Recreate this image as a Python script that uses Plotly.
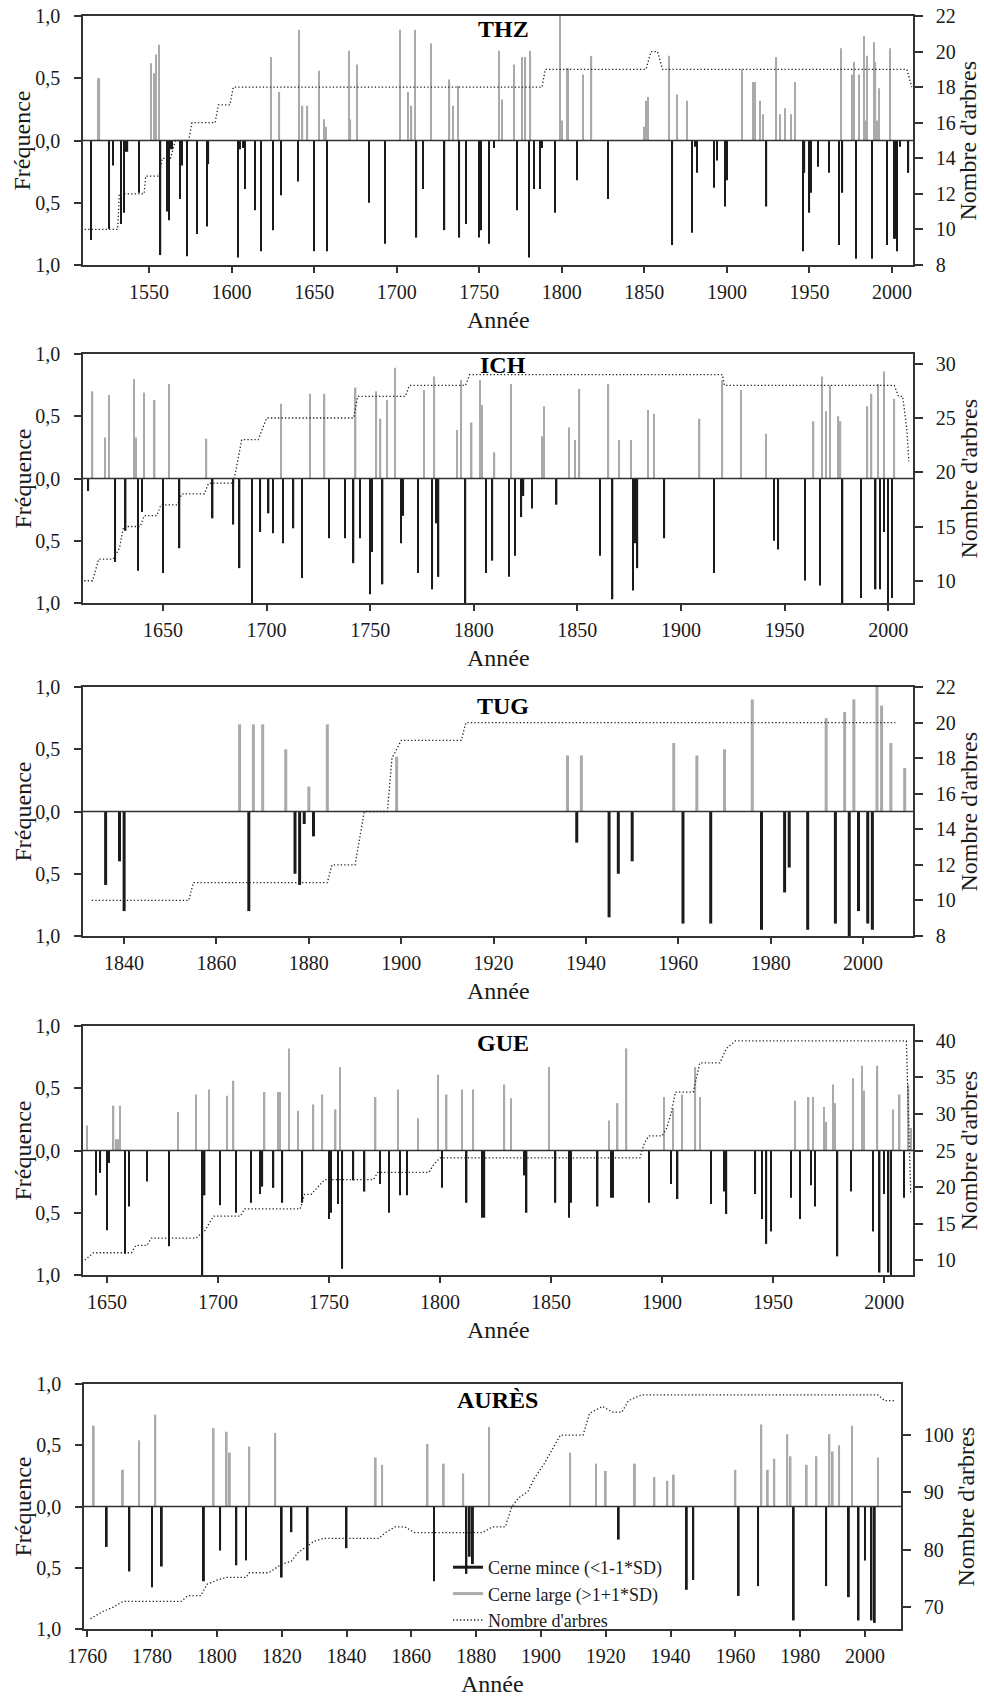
import plotly.graph_objects as go

W, H = 984, 1697

# ---------------- THZ ----------------
THZ_LARGE_YEARS = [1519, 1520, 1551, 1553, 1554, 1556, 1624, 1629, 1641, 1643, 1646, 1653, 1656, 1657,
                   1671, 1672, 1676, 1702, 1707, 1709, 1711, 1721, 1732, 1734, 1737, 1762, 1764, 1771,
                   1776, 1778, 1781, 1799, 1800, 1803, 1804, 1813, 1818, 1850, 1851, 1852, 1865, 1870,
                   1876, 1909, 1916, 1917, 1920, 1922, 1930, 1932, 1935, 1939, 1941, 1969, 1976, 1977,
                   1980, 1983, 1984, 1985, 1989, 1990, 1991, 1992, 1999]
THZ_LARGE_FREQ = [0.50, 0.50, 0.62, 0.54, 0.69, 0.77, 0.67, 0.39, 0.89, 0.28, 0.28, 0.56, 0.17, 0.11,
                  0.72, 0.17, 0.61, 0.89, 0.39, 0.28, 0.89, 0.78, 0.49, 0.28, 0.44, 0.72, 0.33, 0.61,
                  0.67, 0.67, 0.72, 1.00, 0.16, 0.58, 0.58, 0.53, 0.68, 0.11, 0.32, 0.35, 0.68, 0.37,
                  0.32, 0.57, 0.47, 0.47, 0.32, 0.21, 0.67, 0.21, 0.26, 0.21, 0.47, 0.74, 0.53, 0.63,
                  0.53, 0.84, 0.16, 0.68, 0.79, 0.63, 0.16, 0.42, 0.74]
THZ_THIN_YEARS = [1515, 1526, 1528, 1533, 1535, 1536, 1537, 1544, 1557, 1561, 1562, 1563, 1564, 1569,
                  1570, 1573, 1579, 1585, 1586, 1604, 1605, 1607, 1608, 1614, 1618, 1625, 1630, 1640,
                  1650, 1658, 1683, 1693, 1712, 1716, 1729, 1738, 1742, 1750, 1751, 1756, 1759, 1773,
                  1780, 1783, 1787, 1788, 1796, 1809, 1828, 1867, 1879, 1881, 1882, 1892, 1894, 1899,
                  1900, 1924, 1946, 1947, 1950, 1951, 1955, 1962, 1968, 1970, 1978, 1988, 1997, 2001,
                  2002, 2003, 2005, 2010]
THZ_THIN_FREQ = [0.80, 0.71, 0.20, 0.67, 0.58, 0.09, 0.09, 0.42, 0.92, 0.57, 0.64, 0.07, 0.07, 0.47,
                 0.20, 0.93, 0.75, 0.69, 0.19, 0.94, 0.07, 0.06, 0.39, 0.56, 0.89, 0.72, 0.44, 0.33,
                 0.89, 0.89, 0.50, 0.83, 0.78, 0.39, 0.72, 0.78, 0.67, 0.78, 0.72, 0.83, 0.06, 0.56,
                 0.94, 0.39, 0.39, 0.06, 0.58, 0.32, 0.47, 0.84, 0.74, 0.05, 0.26, 0.38, 0.16, 0.53,
                 0.32, 0.53, 0.89, 0.26, 0.58, 0.42, 0.21, 0.26, 0.84, 0.42, 0.95, 0.95, 0.84, 0.79,
                 0.79, 0.89, 0.05, 0.26]
THZ_COUNT_YEARS = [1511, 1531, 1532, 1547, 1548, 1556, 1558, 1563, 1566, 1574, 1576, 1590, 1592, 1599,
                   1601, 1788, 1790, 1851, 1854, 1858, 1861, 2009, 2012]
THZ_COUNT_N = [10, 10, 12, 12, 13, 13, 14, 14, 15, 15, 16, 16, 17, 17,
               18, 18, 19, 19, 20, 20, 19, 19, 18]

# ---------------- ICH ----------------
ICH_LARGE_YEARS = [1616, 1622, 1624, 1636, 1637, 1641, 1646, 1653, 1671, 1707, 1721, 1728, 1743, 1753,
                   1755, 1758, 1762, 1776, 1781, 1792, 1794, 1799, 1803, 1804, 1810, 1818, 1833, 1834,
                   1846, 1849, 1851, 1865, 1870, 1876, 1884, 1887, 1909, 1920, 1929, 1941, 1964, 1968,
                   1970, 1972, 1976, 1977, 1990, 1992, 1995, 1998, 2003]
ICH_LARGE_FREQ = [0.70, 0.33, 0.67, 0.80, 0.33, 0.69, 0.63, 0.76, 0.32, 0.60, 0.68, 0.68, 0.73, 0.70,
                  0.48, 0.63, 0.89, 0.71, 0.82, 0.39, 0.79, 0.45, 0.79, 0.59, 0.21, 0.76, 0.34, 0.58,
                  0.41, 0.31, 0.72, 0.76, 0.31, 0.31, 0.55, 0.52, 0.48, 0.79, 0.71, 0.36, 0.46, 0.82,
                  0.54, 0.75, 0.50, 0.46, 0.58, 0.68, 0.76, 0.86, 0.64]
ICH_THIN_YEARS = [1614, 1627, 1632, 1638, 1640, 1650, 1658, 1674, 1684, 1687, 1693, 1697, 1701, 1703,
                  1708, 1713, 1717, 1730, 1738, 1742, 1745, 1750, 1751, 1756, 1765, 1766, 1773, 1780,
                  1782, 1783, 1796, 1806, 1809, 1817, 1820, 1823, 1824, 1828, 1840, 1861, 1867, 1877,
                  1878, 1879, 1892, 1916, 1945, 1947, 1960, 1967, 1978, 1987, 1994, 1996, 1998, 2000,
                  2002]
ICH_THIN_FREQ = [0.10, 0.67, 0.42, 0.74, 0.27, 0.76, 0.56, 0.32, 0.37, 0.72, 1.00, 0.43, 0.28, 0.44,
                 0.52, 0.40, 0.80, 0.48, 0.48, 0.68, 0.48, 0.93, 0.59, 0.85, 0.52, 0.30, 0.76, 0.89,
                 0.36, 0.79, 1.00, 0.76, 0.66, 0.79, 0.62, 0.31, 0.14, 0.24, 0.21, 0.62, 0.97, 0.90,
                 0.52, 0.72, 0.48, 0.76, 0.50, 0.57, 0.82, 0.86, 1.00, 0.96, 0.89, 0.89, 0.43, 1.00,
                 0.96]
ICH_COUNT_YEARS = [1612, 1616, 1619, 1626, 1629, 1631, 1639, 1641, 1647, 1649, 1657, 1659, 1670, 1672,
                   1684, 1686, 1688, 1696, 1698, 1700, 1742, 1744, 1767, 1769, 1796, 1798, 1920, 1921,
                   2003, 2005, 2007, 2009, 2010]
ICH_COUNT_N = [10, 10, 12, 12, 13, 15, 15, 16, 16, 17, 17, 18, 18, 19,
               19, 21, 23, 23, 24, 25, 25, 27, 27, 28, 28, 29, 29, 28,
               28, 27, 27, 24, 21]

# ---------------- TUG ----------------
TUG_LARGE_YEARS = [1865, 1868, 1870, 1875, 1880, 1884, 1899, 1936, 1939, 1959, 1964, 1970, 1976, 1992,
                   1996, 1998, 2003, 2004, 2006, 2009]
TUG_LARGE_FREQ = [0.70, 0.70, 0.70, 0.50, 0.20, 0.70, 0.44, 0.45, 0.45, 0.55, 0.45, 0.50, 0.90, 0.75,
                  0.80, 0.90, 1.00, 0.85, 0.55, 0.35]
TUG_THIN_YEARS = [1836, 1839, 1840, 1867, 1877, 1878, 1879, 1881, 1938, 1945, 1947, 1950, 1961, 1967,
                  1978, 1983, 1984, 1988, 1994, 1997, 1999, 2001, 2002]
TUG_THIN_FREQ = [0.59, 0.40, 0.80, 0.80, 0.50, 0.59, 0.10, 0.20, 0.25, 0.85, 0.50, 0.40, 0.90, 0.90,
                 0.95, 0.65, 0.45, 0.95, 0.90, 1.00, 0.80, 0.90, 0.95]
TUG_COUNT_YEARS = [1833, 1854, 1855, 1884, 1885, 1890, 1892, 1897, 1898, 1900, 1913, 1914, 2007]
TUG_COUNT_N = [10, 10, 11, 11, 12, 12, 15, 15, 18, 19, 19, 20, 20]

# ---------------- GUE ----------------
GUE_LARGE_YEARS = [1641, 1653, 1654, 1655, 1656, 1682, 1690, 1696, 1704, 1707, 1721, 1727, 1728, 1732,
                   1736, 1743, 1747, 1753, 1755, 1771, 1781, 1790, 1799, 1803, 1810, 1815, 1829, 1832,
                   1849, 1876, 1880, 1884, 1901, 1905, 1909, 1915, 1917, 1960, 1966, 1968, 1973, 1974,
                   1977, 1978, 1986, 1990, 1991, 1997, 2004, 2007, 2011, 2012]
GUE_LARGE_FREQ = [0.20, 0.36, 0.09, 0.09, 0.36, 0.31, 0.45, 0.49, 0.44, 0.56, 0.47, 0.47, 0.47, 0.82,
                  0.32, 0.37, 0.45, 0.33, 0.67, 0.43, 0.49, 0.26, 0.61, 0.45, 0.49, 0.49, 0.53, 0.42,
                  0.67, 0.24, 0.38, 0.82, 0.43, 0.34, 0.45, 0.67, 0.43, 0.40, 0.43, 0.43, 0.35, 0.23,
                  0.53, 0.38, 0.58, 0.68, 0.48, 0.68, 0.33, 0.45, 0.53, 0.18]
GUE_THIN_YEARS = [1645, 1647, 1650, 1651, 1658, 1660, 1668, 1678, 1693, 1694, 1701, 1708, 1715, 1719,
                  1720, 1725, 1729, 1738, 1750, 1751, 1754, 1756, 1761, 1766, 1773, 1777, 1782, 1785,
                  1801, 1812, 1819, 1820, 1838, 1839, 1852, 1858, 1859, 1871, 1877, 1878, 1894, 1904,
                  1907, 1922, 1928, 1929, 1942, 1945, 1947, 1949, 1958, 1962, 1967, 1969, 1979, 1985,
                  1995, 1998, 2000, 2002, 2003, 2009]
GUE_THIN_FREQ = [0.36, 0.18, 0.64, 0.10, 0.83, 0.45, 0.25, 0.77, 1.00, 0.36, 0.44, 0.50, 0.42, 0.35,
                 0.29, 0.30, 0.42, 0.42, 0.55, 0.50, 0.43, 0.95, 0.24, 0.33, 0.27, 0.50, 0.36, 0.36,
                 0.30, 0.42, 0.54, 0.54, 0.20, 0.50, 0.42, 0.54, 0.42, 0.45, 0.38, 0.38, 0.42, 0.27,
                 0.39, 0.43, 0.33, 0.51, 0.35, 0.55, 0.75, 0.65, 0.38, 0.55, 0.28, 0.45, 0.85, 0.33,
                 0.65, 0.98, 0.35, 0.98, 1.00, 0.38]
GUE_COUNT_YEARS = [1640, 1644, 1661, 1663, 1668, 1670, 1690, 1694, 1698, 1710, 1712, 1737, 1739, 1742,
                   1745, 1748, 1770, 1772, 1795, 1797, 1800, 1890, 1892, 1894, 1900, 1902, 1904, 1906,
                   1914, 1916, 1917, 1926, 1929, 1933, 2010, 2012]
GUE_COUNT_N = [10, 11, 11, 12, 12, 13, 13, 14, 16, 16, 17, 17, 19, 19,
               20, 21, 21, 22, 22, 23, 24, 24, 26, 27, 27, 28, 30, 33,
               33, 36, 37, 37, 39, 40, 40, 19]

# ---------------- AURÈS ----------------
AUR_LARGE_YEARS = [1762, 1771, 1776, 1781, 1799, 1803, 1804, 1810, 1818, 1849, 1851, 1865, 1870, 1876,
                   1884, 1909, 1917, 1920, 1929, 1935, 1939, 1941, 1960, 1968, 1970, 1972, 1976, 1977,
                   1982, 1985, 1989, 1990, 1992, 1996, 2004]
AUR_LARGE_FREQ = [0.66, 0.30, 0.54, 0.75, 0.64, 0.61, 0.44, 0.49, 0.60, 0.40, 0.34, 0.51, 0.35, 0.27,
                  0.65, 0.44, 0.35, 0.29, 0.35, 0.24, 0.21, 0.26, 0.30, 0.67, 0.30, 0.39, 0.59, 0.41,
                  0.34, 0.41, 0.59, 0.45, 0.50, 0.66, 0.40]
AUR_THIN_YEARS = [1766, 1773, 1780, 1783, 1796, 1801, 1806, 1809, 1820, 1823, 1828, 1840, 1867, 1877,
                  1878, 1879, 1924, 1945, 1947, 1961, 1967, 1978, 1988, 1995, 1998, 2000, 2002, 2003]
AUR_THIN_FREQ = [0.33, 0.53, 0.66, 0.49, 0.61, 0.36, 0.48, 0.44, 0.58, 0.21, 0.44, 0.34, 0.61, 0.55,
                 0.41, 0.47, 0.27, 0.68, 0.60, 0.73, 0.65, 0.93, 0.65, 0.74, 0.93, 0.44, 0.93, 0.95]
AUR_COUNT_YEARS = [1761, 1765, 1768, 1771, 1789, 1791, 1795, 1797, 1800, 1803, 1809, 1810, 1816, 1818,
                   1820, 1823, 1825, 1827, 1830, 1833, 1850, 1852, 1855, 1858, 1861, 1882, 1885, 1889,
                   1891, 1893, 1896, 1898, 1901, 1904, 1906, 1913, 1915, 1919, 1922, 1925, 1927, 1931,
                   2004, 2006, 2009]
AUR_COUNT_N = [68, 69.3, 70, 71, 71, 72, 72, 74, 74.7, 75.2, 75.2, 76, 76, 76.8,
               77.5, 78, 79.5, 80.3, 81.5, 82, 82, 83, 84, 84, 83, 83, 84, 84,
               87.5, 89, 90.2, 92.5, 95, 98, 100, 100, 103.8, 105, 104, 104, 106, 107,
               107, 106, 106]

SITE_NAMES = ["THZ", "ICH", "TUG", "GUE", "AURÈS"]
FREQ_TICKS = [-1, -0.5, 0, 0.5, 1]
FREQ_TICK_TEXT = ["1,0", "0,5", "0,0", "0,5", "1,0"]

# ---------------- styling / geometry (pixels) ----------------
FONT = "Liberation Serif, Times New Roman, serif"
INK = "#1a1a1a"
AXIS = "#333333"
GRAY = "#aaaaaa"

panels = [
    dict(name=SITE_NAMES[0], ly=THZ_LARGE_YEARS, lf=THZ_LARGE_FREQ, ty=THZ_THIN_YEARS, tf=THZ_THIN_FREQ,
         cy=THZ_COUNT_YEARS, cn=THZ_COUNT_N, box=(83, 913, 16, 265), xr=[1510, 2012.7], xt=50,
         rr=[8, 22], rt=list(range(8, 23, 2)), bw=0.75, ty_off=13, rtitle=55),
    dict(name=SITE_NAMES[1], ly=ICH_LARGE_YEARS, lf=ICH_LARGE_FREQ, ty=ICH_THIN_YEARS, tf=ICH_THIN_FREQ,
         cy=ICH_COUNT_YEARS, cn=ICH_COUNT_N, box=(83, 913, 354, 603), xr=[1611.4, 2012], xt=50,
         rr=[7.95, 30.9], rt=[10, 15, 20, 25, 30], bw=0.7, ty_off=11, rtitle=55),
    dict(name=SITE_NAMES[2], ly=TUG_LARGE_YEARS, lf=TUG_LARGE_FREQ, ty=TUG_THIN_YEARS, tf=TUG_THIN_FREQ,
         cy=TUG_COUNT_YEARS, cn=TUG_COUNT_N, box=(83, 913, 687, 936), xr=[1831.1, 2010.8], xt=20,
         rr=[8, 22], rt=list(range(8, 23, 2)), bw=0.65, ty_off=19, rtitle=55),
    dict(name=SITE_NAMES[3], ly=GUE_LARGE_YEARS, lf=GUE_LARGE_FREQ, ty=GUE_THIN_YEARS, tf=GUE_THIN_FREQ,
         cy=GUE_COUNT_YEARS, cn=GUE_COUNT_N, box=(83, 913, 1026, 1275), xr=[1639.2, 2013], xt=50,
         rr=[7.95, 42.05], rt=[10, 15, 20, 25, 30, 35, 40], bw=0.65, ty_off=17, rtitle=55),
    dict(name=SITE_NAMES[4], ly=AUR_LARGE_YEARS, lf=AUR_LARGE_FREQ, ty=AUR_THIN_YEARS, tf=AUR_THIN_FREQ,
         cy=AUR_COUNT_YEARS, cn=AUR_COUNT_N, box=(84, 901, 1384, 1629), xr=[1759, 2011.1], xt=20,
         rr=[66.2, 108.9], rt=[70, 80, 90, 100], bw=0.6, ty_off=16, rtitle=64),
]


def px(xp):
    return xp / W


def py(yp):
    return 1 - yp / H


def ax_id(letter, n):
    return letter if n == 1 else f"{letter}{n}"


def ax_key(letter, n):
    return f"{letter}axis" if n == 1 else f"{letter}axis{n}"


fig = go.Figure()
layout = dict(
    width=W, height=H, margin=dict(l=0, r=0, t=0, b=0, autoexpand=False),
    paper_bgcolor="white", plot_bgcolor="white",
    font=dict(family=FONT, size=20, color=INK),
    barmode="overlay", showlegend=True,
    annotations=[], shapes=[],
)

tick_font = dict(family=FONT, size=20, color=INK)
title_font = dict(family=FONT, size=24, color=INK)

for i, p in enumerate(panels, start=1):
    x0, x1, y0, y1 = p["box"]
    xid = ax_id("x", i)
    yl = ax_id("y", 2 * i - 1)
    yr = ax_id("y", 2 * i)
    first_tick = int(-(-p["xr"][0] // p["xt"]) * p["xt"])
    xticks = list(range(first_tick, int(p["xr"][1]) + 1, p["xt"]))

    layout[ax_key("x", i)] = dict(
        domain=[px(x0), px(x1)], range=p["xr"], anchor=yl, tickvals=xticks, automargin=False,
        ticks="outside", ticklen=6, tickwidth=1.5, tickcolor=AXIS,
        showline=True, linecolor=AXIS, linewidth=1.6, mirror=True,
        showgrid=False, zeroline=False, tickfont=tick_font, ticklabelstandoff=2,
    )
    layout[ax_key("y", 2 * i - 1)] = dict(
        domain=[py(y1), py(y0)], range=[-1, 1], anchor=xid, automargin=False,
        tickvals=FREQ_TICKS, ticktext=FREQ_TICK_TEXT,
        ticks="outside", ticklen=7, tickwidth=1.5, tickcolor=AXIS,
        showline=True, linecolor=AXIS, linewidth=1.6, mirror=True,
        showgrid=False, zeroline=False, tickfont=tick_font, ticklabelstandoff=10,
    )
    layout[ax_key("y", 2 * i)] = dict(
        overlaying=yl, side="right", anchor=xid, range=p["rr"], tickvals=p["rt"], automargin=False,
        ticks="outside", ticklen=8, tickwidth=1.5, tickcolor=AXIS,
        showline=True, linecolor=AXIS, linewidth=1.6,
        showgrid=False, zeroline=False, tickfont=tick_font, ticklabelstandoff=9,
    )

    # large rings point up, thin rings point down
    fig.add_trace(go.Bar(x=p["ly"], y=p["lf"], width=p["bw"], marker=dict(color=GRAY, line=dict(width=0)),
                         xaxis=xid, yaxis=yl, showlegend=False, hoverinfo="x+y"))
    fig.add_trace(go.Bar(x=p["ty"], y=[-v for v in p["tf"]], width=p["bw"],
                         marker=dict(color=INK, line=dict(width=0)),
                         xaxis=xid, yaxis=yl, showlegend=False, hoverinfo="x+y"))
    fig.add_trace(go.Scatter(x=p["cy"], y=p["cn"], mode="lines",
                             line=dict(color="#222222", width=1.3, dash="1.3px,2.2px"),
                             xaxis=xid, yaxis=yr, showlegend=False, hoverinfo="x+y"))

    # zero line drawn above the bars
    layout["shapes"].append(dict(type="line", xref=f"{xid} domain", x0=0, x1=1, yref=yl, y0=0, y1=0,
                                 line=dict(color=AXIS, width=1.6), layer="above"))

    xc = (x0 + x1) / 2
    layout["annotations"] += [
        dict(text=f"<b>{p['name']}</b>", xref="paper", yref="paper", x=px(xc + 5), y=py(y0 + p["ty_off"]),
             showarrow=False, xanchor="center", yanchor="middle",
             font=dict(family=FONT, size=24, color="black")),
        dict(text="Fréquence", xref="paper", yref="paper", x=px(22), y=py((y0 + y1) / 2),
             textangle=-90, showarrow=False, xanchor="center", yanchor="middle", font=title_font),
        dict(text="Nombre d'arbres", xref="paper", yref="paper", x=px(x1 + p["rtitle"]), y=py((y0 + y1) / 2),
             textangle=-90, showarrow=False, xanchor="center", yanchor="middle", font=title_font),
        dict(text="Année", xref="paper", yref="paper", x=px(xc), y=py(y1 + 55),
             showarrow=False, xanchor="center", yanchor="middle", font=title_font),
    ]

# legend entries (bottom panel)
fig.add_trace(go.Scatter(x=[None], y=[None], mode="lines", name="Cerne mince (&lt;1-1*SD)",
                         line=dict(color=INK, width=3), xaxis="x5", yaxis="y9"))
fig.add_trace(go.Scatter(x=[None], y=[None], mode="lines", name="Cerne large (&gt;1+1*SD)",
                         line=dict(color=GRAY, width=3), xaxis="x5", yaxis="y9"))
fig.add_trace(go.Scatter(x=[None], y=[None], mode="lines", name="Nombre d'arbres",
                         line=dict(color="#222222", width=1.3, dash="1.3px,2.2px"), xaxis="x5", yaxis="y9"))

layout["legend"] = dict(x=px(448), y=py(1549), xanchor="left", yanchor="top",
                        bgcolor="rgba(0,0,0,0)", borderwidth=0,
                        font=dict(family=FONT, size=18, color=INK), itemwidth=30, tracegroupgap=0)

fig.update_layout(**layout)
fig.write_html("out.html")
